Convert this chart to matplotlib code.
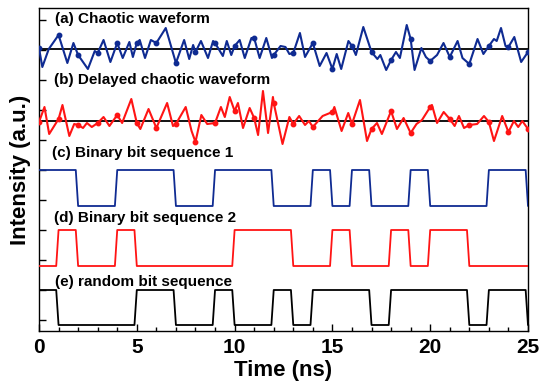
import numpy as np
import matplotlib
matplotlib.use("Agg")
import matplotlib.pyplot as plt

plt.rcParams['font.family'] = ['Liberation Sans', 'DejaVu Sans']
plt.rcParams['font.weight'] = 'bold'

# chaotic waveform (a): time (ns) and deviation from threshold (a.u.)
chaos_t = [0.0, 0.17, 0.5, 1.0, 1.45, 1.76, 2.0, 2.5, 2.85, 3.0, 3.3, 3.65, 4.0, 4.28, 4.62, 4.8,
           5.0, 5.15, 5.42, 5.72, 6.0, 6.48, 7.0, 7.42, 7.68, 7.88, 8.0, 8.28, 8.64, 8.9, 9.0,
           9.4, 9.6, 9.83, 10.0, 10.26, 10.52, 10.86, 11.0, 11.28, 11.62, 11.91, 12.0, 12.35,
           12.6, 12.8, 13.0, 13.34, 13.6, 14.0, 14.35, 14.7, 15.0, 15.22, 15.45, 15.82, 16.0,
           16.2, 16.58, 17.0, 17.3, 17.45, 17.75, 18.0, 18.25, 18.45, 18.8, 19.0, 19.2, 19.55,
           19.78, 20.0, 20.35, 20.68, 21.0, 21.4, 21.65, 22.0, 22.42, 22.72, 23.0, 23.26, 23.4,
           23.62, 23.85, 24.0, 24.3, 24.65, 25.0]
chaos_v = [1, -18, 0, 14, -14, 6, -6, -20, -2, -4, 9, -13, 6, -9, 7, -8,
           6, 9, -9, 9, 6, 21, -14, 9, -10, 4, -3, 8, -9, 8, 6,
           -7, 8, -6, 3, 9, -9, 11, 11, -9, 11, -9, -6, 3,
           2, -5, -4, 16, -8, 6, -17, -4, -20, -5, -20, 8, 3,
           -6, 22, -3, -10, -6, -21, -11, -3, -9, 24, 10, -21, 1,
           -8, -12, -6, 6, -8, 8, -9, -15, 10, -5, 3, 10, 8,
           21, 3, 2, 12, -13, -3]

# delayed chaotic waveform (b)
delay_t = [0.0, 0.28, 0.52, 1.0, 1.2, 1.55, 1.8, 2.0, 2.25, 2.45, 2.7, 3.0, 3.3, 3.6, 4.0, 4.25,
           4.72, 5.0, 5.18, 5.6, 6.0, 6.55, 6.85, 7.0, 7.5, 7.8, 8.0, 8.3, 8.6, 9.0, 9.3, 9.5,
           9.75, 10.0, 10.17, 10.43, 10.77, 11.0, 11.2, 11.45, 11.71, 11.96, 12.0, 12.45, 12.8,
           13.0, 13.3, 13.6, 13.8, 14.0, 14.5, 15.0, 15.1, 15.47, 15.81, 16.0, 16.41, 16.77,
           17.0, 17.28, 17.53, 18.0, 18.3, 18.64, 19.0, 19.3, 19.58, 20.0, 20.09, 20.35, 20.69,
           21.0, 21.25, 21.47, 21.73, 22.0, 22.4, 22.75, 23.0, 23.26, 23.68, 24.0, 24.28, 24.5,
           24.71, 25.0]
delay_v = [-1, 14, -13, 2, 16, -15, -3, -4, -7, -2, -6, -2, 4, -5, 6, -2,
           22, -2, -8, 12, -7, 18, -5, -3, 14, -10, -21, 6, -3, -2, 14, 4,
           24, 10, 18, -7, 13, 3, -14, 30, -12, 24, 18, -23, 4,
           -3, 5, -4, 0, -6, 5, 9, 14, -10, 8, -3, 21, -20,
           -8, -2, -13, 10, -8, 3, -12, -3, 1, 14, 16, -2, 9,
           2, -5, 5, -7, -4, -3, 5, -1, -20, 5, -11, 0, -6,
           0, -8]

# bit sequences, one bit per ns (last entry: level after 25 ns)
bits_1 = [1, 1, 0, 0, 1, 1, 1, 0, 0, 1, 1, 1, 0, 0, 1, 0, 1, 0, 0, 1, 0, 0, 0, 1, 1, 0]
bits_2 = [0, 1, 0, 0, 1, 0, 0, 0, 0, 0, 1, 1, 1, 0, 0, 1, 0, 0, 1, 0, 1, 1, 0, 0, 0, 0]
bits_r = [1, 0, 0, 0, 0, 1, 1, 0, 0, 1, 0, 0, 1, 0, 1, 1, 1, 0, 1, 1, 1, 1, 0, 1, 1, 0]

labels = ['(a) Chaotic waveform', '(b) Delayed chaotic waveform',
          '(c) Binary bit sequence 1', '(d) Binary bit sequence 2',
          '(e) random bit sequence']

blue = '#0f2b92'
red = '#ff1414'


def bit_trace(bits, lo, hi, ramp=0.12):
    t, y = [], []
    for i, b in enumerate(bits):
        t += [i, i + 1 - ramp]
        y += [b, b]
    return np.array(t), lo + (hi - lo) * np.array(y)


fig = plt.figure(figsize=(5.4, 3.82), dpi=100)
ax = fig.add_axes([39 / 540, 1 - 331 / 382, 489 / 540, 323 / 382])

base_a, base_b = 282, 210
for tt, vv, base, col in [(chaos_t, chaos_v, base_a, blue), (delay_t, delay_v, base_b, red)]:
    tt = np.array(tt)
    vv = np.array(vv) + base
    ax.axhline(base, color='black', lw=1.3, zorder=2)
    ax.plot(tt, vv, color=col, lw=1.5, solid_joinstyle='round', zorder=3)
    m = np.isclose(tt, np.round(tt))
    ax.plot(tt[m], vv[m], 'o', color=col, ms=3.2, zorder=4)

for bits, lo, hi, col in [(bits_1, 125, 161, blue), (bits_2, 65, 101, red), (bits_r, 6, 41, 'black')]:
    t, y = bit_trace(bits, lo, hi)
    ax.plot(t, y, color=col, lw=1.3, zorder=3)

for txt, (tx, ty) in zip(labels, [(0.82, 312), (0.77, 251), (0.66, 178), (0.77, 113), (0.82, 49)]):
    ax.text(tx, ty, txt, fontsize=11, fontweight='bold', va='center', ha='left')

ax.set_xlim(0, 25)
ax.set_ylim(0, 323)
ax.set_xticks([0, 5, 10, 15, 20, 25])
ax.set_xticks(np.arange(0, 26, 1), minor=True)
ax.set_yticks(np.arange(11, 312, 30))
ax.set_yticklabels([])
ax.tick_params(axis='x', which='major', direction='in', length=5, width=1, labelsize=15, pad=5)
ax.tick_params(axis='x', which='minor', direction='in', length=3, width=1)
ax.tick_params(axis='y', direction='in', length=5, width=1)
for lab in ax.get_xticklabels():
    lab.set_fontweight('bold')
for s in ax.spines.values():
    s.set_linewidth(1.0)

ax.set_xlabel('Time (ns)', fontsize=16, fontweight='bold', labelpad=2)
ax.set_ylabel('Intensity (a.u.)', fontsize=16, fontweight='bold', va='center')
ax.yaxis.set_label_coords(-0.037, 0.5)

fig.savefig('out.png', dpi=100)
